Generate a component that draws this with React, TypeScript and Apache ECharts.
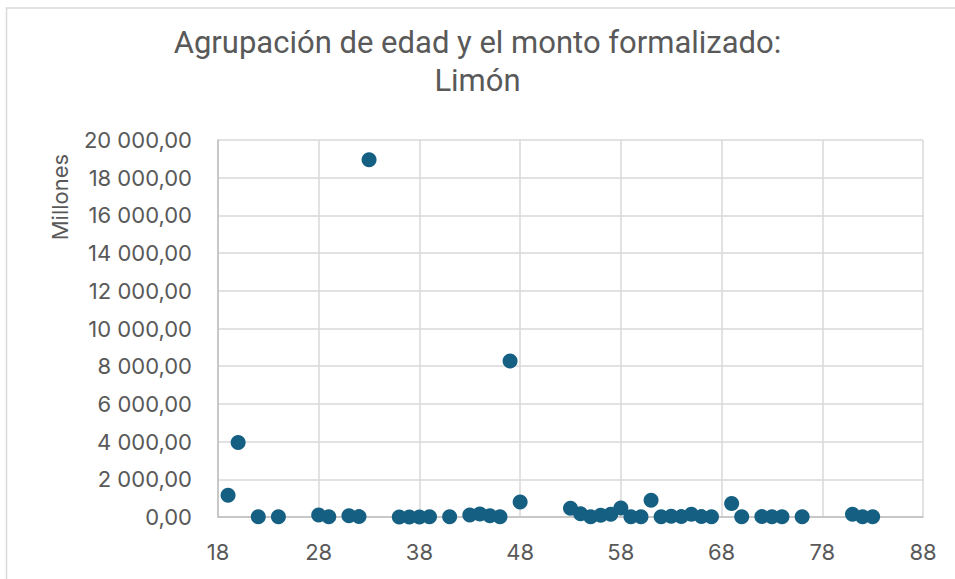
import React, { useEffect, useRef } from "react";
import * as echarts from "echarts";

const TITLE_LINES = ["Agrupación de edad y el monto formalizado:", "Limón"];
const Y_AXIS_NAME = "Millones";
const AGE_ORIGIN = 18;
const AGE_MAX = 88;
const AGE_STEP = 10;
const Y_MIN = 0;
const Y_MAX = 20000;
const Y_STEP = 2000;

const ages = [19, 20, 22, 24, 28, 29, 31, 32, 33, 36, 37, 38, 39, 41, 43, 44, 45, 46, 47, 48, 53, 54, 55, 56, 57, 58, 59, 60, 61, 62, 63, 64, 65, 66, 67, 69, 70, 72, 73, 74, 76, 81, 82, 83];
const amounts = [1150, 3950, 15, 15, 100, 10, 70, 20, 18950, 5, 5, 5, 10, 15, 100, 160, 60, 10, 8270, 800, 460, 170, 15, 90, 140, 480, 10, 10, 890, 15, 40, 20, 140, 20, 10, 710, 15, 20, 15, 15, 15, 140, 10, 15];

const TEXT = "#595959";
const DOT = "#156082";

function fmtNumber(v: number): string {
  const fixed = Math.abs(v).toFixed(2);
  const [intPart, dec] = fixed.split(".");
  const grouped = intPart.replace(/\B(?=(\d{3})+(?!\d))/g, " ");
  return (v < 0 ? "-" : "") + grouped + "," + dec;
}

export default function App() {
  const ref = useRef<HTMLDivElement>(null);
  useEffect(() => {
    document.body.style.margin = "0";
    if (!ref.current) return;
    const chart = echarts.init(ref.current, null, { renderer: "svg" });
    const data = ages.map((a, i) => [a - AGE_ORIGIN, amounts[i]]);
    chart.setOption({
      animation: false,
      backgroundColor: "#ffffff",
      title: {
        text: TITLE_LINES.join("\n"),
        left: "center",
        top: 18,
        textStyle: {
          fontFamily: "Roboto, sans-serif",
          fontSize: 31,
          fontWeight: "normal",
          color: TEXT,
          lineHeight: 38,
        },
      },
      graphic: [
        {
          type: "rect",
          shape: { x: 6.5, y: 8, width: 1200, height: 1200 },
          style: { fill: "none", stroke: "#d9d9d9", lineWidth: 1.5 },
          silent: true,
        },
        {
          type: "text",
          x: 60,
          y: 197,
          rotation: Math.PI / 2,
          style: {
            text: Y_AXIS_NAME,
            fontFamily: "Inter, sans-serif",
            fontSize: 22,
            fill: TEXT,
            align: "center",
            verticalAlign: "middle",
          },
        },
      ],
      grid: { left: 218, right: 32, top: 140, bottom: 62 },
      xAxis: {
        type: "value",
        min: 0,
        max: AGE_MAX - AGE_ORIGIN,
        interval: AGE_STEP,
        axisLine: { show: true, lineStyle: { color: "#bfbfbf", width: 1.5 } },
        axisTick: { show: false },
        splitLine: { show: true, lineStyle: { color: "#d9d9d9", width: 1.5 } },
        axisLabel: {
          margin: 24,
          fontFamily: "Inter, sans-serif",
          fontSize: 22,
          color: TEXT,
          formatter: (v: number) => String(v + AGE_ORIGIN),
        },
      },
      yAxis: {
        type: "value",
        min: Y_MIN,
        max: Y_MAX,
        interval: Y_STEP,
        axisLine: { show: true, lineStyle: { color: "#bfbfbf", width: 1.5 } },
        axisTick: { show: false },
        splitLine: { show: true, lineStyle: { color: "#d9d9d9", width: 1.5 } },
        axisLabel: {
          margin: 26,
          fontFamily: "Inter, sans-serif",
          fontSize: 22,
          color: TEXT,
          formatter: (v: number) => fmtNumber(v),
        },
      },
      series: [
        {
          type: "scatter",
          data,
          symbol: "circle",
          symbolSize: 15,
          itemStyle: { color: DOT, opacity: 1 },
        },
      ],
    });
    return () => chart.dispose();
  }, []);
  return <div ref={ref} style={{ width: 955, height: 579 }} />;
}
